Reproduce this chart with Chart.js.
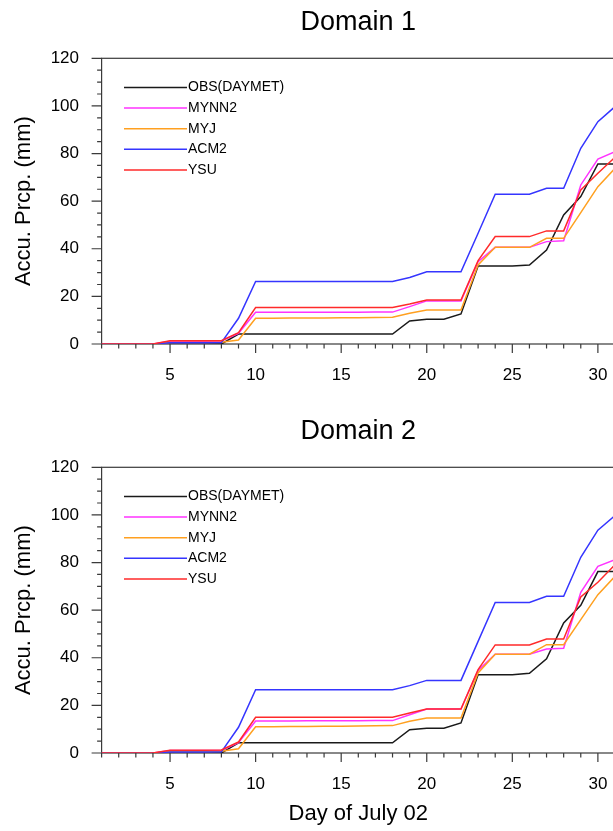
<!DOCTYPE html>
<html>
<head>
<meta charset="utf-8">
<script src="https://cdn.jsdelivr.net/npm/chart.js@4.4.1/dist/chart.umd.min.js"></script>
<style>
  html, body { margin: 0; padding: 0; background: #fff; overflow: hidden; width: 613px; height: 831px; }
  canvas { position: absolute; left: 0; }
  #c1 { top: 0; }
  #c2 { top: 409px; }
</style>
</head>
<body>
<canvas id="c1" width="615" height="409"></canvas>
<canvas id="c2" width="615" height="422"></canvas>
<script>
// day of month
var days = [1, 2, 3, 4, 5, 6, 7, 8, 9, 10, 11, 12, 13, 14, 15, 16, 17, 18, 19, 20,
            21, 22, 23, 24, 25, 26, 27, 28, 29, 30, 31];
var xTickLabels = [5, 10, 15, 20, 25, 30];
var yTickLabels = [0, 20, 40, 60, 80, 100, 120];
var seriesNames = ["OBS(DAYMET)", "MYNN2", "MYJ", "ACM2", "YSU"];

// Domain 1, accumulated precip (mm)
var d1Obs   = [0, 0, 0, 0, 0, 0, 0, 0, 4.2, 4.2, 4.2, 4.2, 4.2, 4.2, 4.2, 4.2, 4.2, 4.2, 9.7, 10.4,
               10.4, 12.6, 32.8, 32.8, 32.8, 33.2, 39.5, 54.2, 61.9, 75.6, 75.6];
var d1Mynn2 = [0, 0, 0, 0, 1.2, 1.2, 1.2, 1.3, 4.5, 13.3, 13.3, 13.3, 13.3, 13.3, 13.3, 13.3, 13.4, 13.4, 15.7, 18.1,
               18.1, 18.1, 34.6, 40.6, 40.6, 40.6, 43.0, 43.4, 66.8, 77.7, 80.8];
var d1Myj   = [0, 0, 0, 0, 0.6, 0.6, 0.6, 0.7, 1.7, 10.8, 10.8, 10.9, 10.9, 10.9, 11.0, 11.0, 11.1, 11.2, 12.9, 14.3,
               14.3, 14.3, 33.2, 40.6, 40.6, 40.6, 44.4, 44.4, 55.2, 66.1, 73.8];
var d1Acm2  = [0, 0, 0, 0, 0.5, 0.5, 0.5, 0.6, 10.8, 26.3, 26.3, 26.3, 26.3, 26.3, 26.3, 26.3, 26.3, 26.3, 27.9, 30.3,
               30.3, 30.3, 46.5, 62.9, 62.9, 62.9, 65.4, 65.4, 82.2, 93.4, 99.7];
var d1Ysu   = [0, 0, 0, 0, 1.4, 1.4, 1.4, 1.4, 4.8, 15.3, 15.3, 15.3, 15.3, 15.3, 15.3, 15.3, 15.3, 15.3, 16.8, 18.5,
               18.5, 18.5, 35.0, 45.1, 45.1, 45.1, 47.5, 47.5, 64.7, 71.7, 78.4];

// Domain 2
var d2Obs   = [0, 0, 0, 0, 0, 0, 0, 0, 4.3, 4.3, 4.3, 4.3, 4.3, 4.3, 4.3, 4.3, 4.3, 4.3, 9.8, 10.4,
               10.4, 12.6, 32.9, 32.9, 32.9, 33.5, 39.6, 54.6, 62.0, 76.2, 76.2];
var d2Mynn2 = [0, 0, 0, 0, 1.0, 1.0, 1.0, 1.1, 4.3, 13.4, 13.4, 13.4, 13.5, 13.5, 13.5, 13.5, 13.6, 13.6, 16.1, 18.5,
               18.5, 18.5, 34.7, 41.5, 41.5, 41.5, 43.7, 44.0, 67.5, 78.4, 81.2];
var d2Myj   = [0, 0, 0, 0, 0.6, 0.6, 0.6, 0.7, 1.8, 11.0, 11.0, 11.1, 11.1, 11.2, 11.2, 11.3, 11.4, 11.5, 13.3, 14.7,
               14.7, 14.7, 33.6, 41.5, 41.5, 41.5, 45.5, 45.5, 56.0, 66.5, 74.2];
var d2Acm2  = [0, 0, 0, 0, 0.4, 0.4, 0.4, 0.5, 10.8, 26.6, 26.6, 26.6, 26.6, 26.6, 26.6, 26.6, 26.6, 26.6, 28.3, 30.5,
               30.5, 30.5, 46.9, 63.2, 63.2, 63.2, 65.8, 65.8, 82.2, 93.6, 99.7];
var d2Ysu   = [0, 0, 0, 0, 1.2, 1.2, 1.2, 1.3, 4.6, 15.0, 15.0, 15.0, 15.0, 15.0, 15.0, 15.0, 15.0, 15.0, 16.8, 18.5,
               18.5, 18.5, 35.0, 45.4, 45.4, 45.4, 47.9, 47.9, 65.5, 71.7, 79.1];

var colors = ["#1a1a1a", "#ff33ff", "#ffa020", "#3535ff", "#ff2a2a"];
var FONT = "'Liberation Sans', Arial, Helvetica, sans-serif";

// frame, outward ticks, x labels, title and legend drawn NCL style
function nclPlugin(title) {
  return {
    id: "ncl",
    beforeDatasetsDraw: function (chart) {
      var ctx = chart.ctx, a = chart.chartArea;
      var xs = chart.scales.x, ys = chart.scales.y;
      ctx.save();
      ctx.strokeStyle = "#3a3a3a";
      ctx.lineWidth = 1.2;
      ctx.strokeRect(a.left, a.top, a.right - a.left, a.bottom - a.top);
      ctx.beginPath();
      days.forEach(function (d) {
        var px = xs.getPixelForValue(d);
        var len = xTickLabels.indexOf(d) >= 0 ? 9 : 4.5;
        ctx.moveTo(px, a.bottom);
        ctx.lineTo(px, a.bottom + len);
      });
      for (var v = 0; v <= 120; v += 5) {
        var py = ys.getPixelForValue(v);
        var l = yTickLabels.indexOf(v) >= 0 ? 10 : 4.5;
        ctx.moveTo(a.left, py);
        ctx.lineTo(a.left - l, py);
      }
      ctx.stroke();
      ctx.restore();
    },
    afterDraw: function (chart) {
      var ctx = chart.ctx, a = chart.chartArea;
      var xs = chart.scales.x;
      ctx.save();
      ctx.fillStyle = "#000";

      ctx.font = "17px " + FONT;
      ctx.textAlign = "center";
      ctx.textBaseline = "middle";
      xTickLabels.forEach(function (v) {
        ctx.fillText(String(v), xs.getPixelForValue(v), a.bottom + 31.5);
      });

      ctx.font = "27px " + FONT;
      ctx.textBaseline = "alphabetic";
      ctx.fillText(title, (a.left + a.right) / 2, 30);

      ctx.font = "14px " + FONT;
      ctx.textAlign = "left";
      ctx.textBaseline = "middle";
      chart.data.datasets.forEach(function (ds, i) {
        var y = a.top + 29.2 + i * 20.6;
        ctx.strokeStyle = ds.borderColor;
        ctx.lineWidth = ds.borderWidth;
        ctx.beginPath();
        ctx.moveTo(a.left + 22.4, y);
        ctx.lineTo(a.left + 85.4, y);
        ctx.stroke();
        ctx.fillText(ds.label, a.left + 86.4, y);
      });
      ctx.restore();
    }
  };
}

function makeChart(id, title, series, showXTitle) {
  var canvas = document.getElementById(id);
  var datasets = series.map(function (vals, i) {
    return {
      label: seriesNames[i],
      data: days.map(function (d, k) { return { x: d, y: vals[k] }; }),
      borderColor: colors[i],
      backgroundColor: colors[i],
      borderWidth: 1.5,
      pointRadius: 0,
      tension: 0,
      order: series.length - 1 - i
    };
  });
  return new Chart(canvas.getContext("2d"), {
    type: "line",
    data: { datasets: datasets },
    plugins: [nclPlugin(title)],
    options: {
      responsive: false,
      animation: false,
      devicePixelRatio: 1,
      layout: { padding: { top: 58.3, left: 0, right: 0, bottom: 0 } },
      plugins: { legend: { display: false }, tooltip: { enabled: false } },
      scales: {
        x: {
          type: "linear",
          min: 1,
          max: 31,
          grid: { display: false, drawTicks: false },
          border: { display: false },
          ticks: { display: false },
          afterBuildTicks: function (s) { s.ticks = xTickLabels.map(function (v) { return { value: v }; }); },
          afterFit: function (s) { s.height = canvas.height - 344; },
          title: {
            display: showXTitle,
            text: "Day of July 02",
            color: "#000",
            font: { family: FONT, size: 22 },
            padding: { top: 0, bottom: 4.2 }
          }
        },
        y: {
          min: 0,
          max: 120,
          grid: { display: false, drawTicks: true, tickLength: 22 },
          border: { display: false },
          ticks: { padding: 0.6, color: "#000", font: { family: FONT, size: 17 } },
          afterBuildTicks: function (s) { s.ticks = yTickLabels.map(function (v) { return { value: v }; }); },
          afterFit: function (s) { s.width = 101.6; },
          title: {
            display: true,
            text: "Accu. Prcp. (mm)",
            color: "#000",
            font: { family: FONT, size: 22 },
            padding: { top: 10.4, bottom: 0 }
          }
        }
      }
    }
  });
}

makeChart("c1", "Domain 1", [d1Obs, d1Mynn2, d1Myj, d1Acm2, d1Ysu], false);
makeChart("c2", "Domain 2", [d2Obs, d2Mynn2, d2Myj, d2Acm2, d2Ysu], true);
</script>
</body>
</html>
